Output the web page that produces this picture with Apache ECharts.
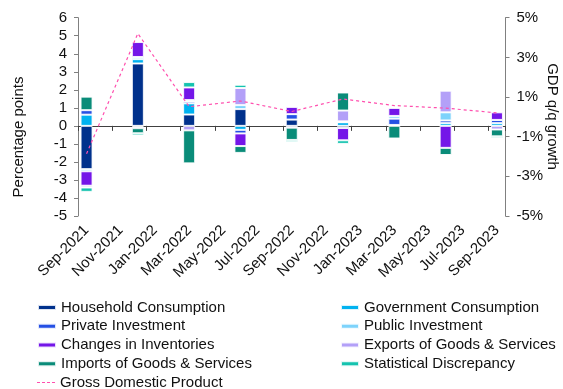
<!DOCTYPE html>
<html>
<head>
<meta charset="utf-8">
<script src="https://cdn.jsdelivr.net/npm/echarts@6/dist/echarts.min.js"></script>
<style>
  html, body { margin: 0; padding: 0; background: #fff; }
  #chart { width: 563px; height: 389px; }
</style>
</head>
<body>
<div id="chart"></div>
<script>
// Monthly category slots (labels shown every second month)
const months = ['Sep-2021','Oct-2021','Nov-2021','Dec-2021','Jan-2022','Feb-2022','Mar-2022','Apr-2022','May-2022',
  'Jun-2022','Jul-2022','Aug-2022','Sep-2022','Oct-2022','Nov-2022','Dec-2022','Jan-2023','Feb-2023','Mar-2023',
  'Apr-2023','May-2023','Jun-2023','Jul-2023','Aug-2023','Sep-2023'];

// Quarter-end months carrying data
const quarters = ['Sep-2021','Dec-2021','Mar-2022','Jun-2022','Sep-2022','Dec-2022','Mar-2023','Jun-2023','Sep-2023'];

// Contributions to growth, percentage points
const household       = [-2.40, 3.46,  0.63,  0.93,  0.35, -0.12,  0.05,  0.00,  0.00];
const government      = [ 0.62, 0.24,  0.62, -0.22,  0.00,  0.20,  0.00,  0.15,  0.15];
const privateInv      = [ 0.25, -0.05, 0.10, -0.20,  0.30,  0.00,  0.35,  0.15,  0.18];
const publicInv       = [-0.12, 0.12,  0.08,  0.22,  0.00,  0.05,  0.15,  0.45,  0.00];
const inventories     = [-0.80, 0.83,  0.70, -0.70,  0.40, -0.68,  0.45, -1.22,  0.42];
const exportsGS       = [-0.10, -0.08, -0.25, 0.95, -0.10,  0.60,  0.00,  1.20, -0.20];
const importsGS       = [ 0.75, -0.28, -1.83, -0.38, -0.68, 1.00, -0.70, -0.40, -0.38];
const statDiscrepancy = [-0.24, -0.12, 0.30,  0.18, -0.12, -0.20,  0.03,  0.00, -0.10];

// GDP q/q growth, %
const gdp = [-1.86, 4.20, 0.51, 0.80, 0.27, 0.90, 0.57, 0.44, 0.20];

// Axis tick labels
const leftTicks = [-5, -4, -3, -2, -1, 0, 1, 2, 3, 4, 5, 6];
const rightTicks = [-5, -3, -1, 1, 3, 5];

const toMonthly = vals => months.map(m => {
  const i = quarters.indexOf(m);
  return i < 0 ? null : vals[i];
});

const barDefs = [
  { name: 'Household Consumption',       color: '#00318C', data: household },
  { name: 'Government Consumption',      color: '#00B2F0', data: government },
  { name: 'Private Investment',          color: '#2550E4', data: privateInv },
  { name: 'Public Investment',           color: '#7DD3FB', data: publicInv },
  { name: 'Changes in Inventories',      color: '#7416E8', data: inventories },
  { name: 'Exports of Goods & Services', color: '#B3A0F8', data: exportsGS },
  { name: 'Imports of Goods & Services', color: '#0A8C79', data: importsGS },
  { name: 'Statistical Discrepancy',     color: '#14C3AF', data: statDiscrepancy }
];

const FONT = 'Liberation Sans, Arial, sans-serif';
const TXT = '#111';
const PINK = '#FF4FAE';

const series = barDefs.map(d => ({
  name: d.name,
  type: 'bar',
  stack: 'contrib',
  xAxisIndex: 0,
  yAxisIndex: 0,
  barWidth: 12,
  itemStyle: { color: d.color, borderColor: 'rgba(255,255,255,0.85)', borderWidth: 1 },
  data: toMonthly(d.data)
}));

series.push({
  name: 'Gross Domestic Product',
  type: 'line',
  xAxisIndex: 0,
  yAxisIndex: 1,
  symbol: 'none',
  connectNulls: true,
  lineStyle: { color: PINK, width: 1.2, type: [3, 3] },
  itemStyle: { color: PINK },
  data: toMonthly(gdp),
  z: 5
});

const legendText = { fontFamily: FONT, fontSize: 15, color: TXT, lineHeight: 18.8 };
const legendBase = {
  orient: 'vertical',
  padding: 0,
  itemGap: 0,
  itemWidth: 18,
  itemHeight: 5,
  height: 120,
  selectedMode: false,
  textStyle: legendText
};
// four short dashes for the GDP legend key
const dashIcon = 'path://M0,0h3v1h-3zM5,0h3v1h-3zM10,0h3v1h-3zM15,0h3v1h-3z';

const option = {
  animation: false,
  backgroundColor: '#fff',
  grid: { left: 78, right: 57.5, top: 17.7, bottom: 173, containLabel: false, outerBoundsMode: 'none' },
  xAxis: [
    {
      type: 'category',
      data: months,
      boundaryGap: true,
      position: 'bottom',
      axisLine: { show: true, onZero: true, onZeroAxisIndex: 0, lineStyle: { color: '#404040', width: 1 } },
      axisTick: { show: true, interval: 1, length: 5, lineStyle: { color: '#404040' } },
      axisLabel: { show: false },
      splitLine: { show: false }
    },
    {
      type: 'category',
      data: months,
      boundaryGap: true,
      position: 'bottom',
      axisLine: { show: false, onZero: false },
      axisTick: { show: false },
      axisLabel: { interval: 1, rotate: 45, margin: 12, fontFamily: FONT, fontSize: 15, color: TXT },
      splitLine: { show: false }
    }
  ],
  yAxis: [
    {
      type: 'value',
      min: leftTicks[0],
      max: leftTicks[leftTicks.length - 1],
      interval: 1,
      position: 'left',
      axisLine: { show: true, lineStyle: { color: '#808080' } },
      axisTick: { show: true, length: 4, lineStyle: { color: '#808080' } },
      axisLabel: { margin: 11, fontFamily: FONT, fontSize: 15, color: TXT },
      splitLine: { show: false }
    },
    {
      type: 'value',
      min: rightTicks[0],
      max: rightTicks[rightTicks.length - 1],
      position: 'right',
      axisLine: { show: true, lineStyle: { color: '#808080' } },
      axisTick: { show: true, length: 4, customValues: rightTicks, lineStyle: { color: '#808080' } },
      axisLabel: { margin: 11, customValues: rightTicks, formatter: v => v + '%', fontFamily: FONT, fontSize: 15, color: TXT },
      splitLine: { show: false }
    }
  ],
  legend: [
    Object.assign({}, legendBase, {
      left: 37,
      top: 298,
      data: [
        { name: 'Household Consumption', icon: 'rect' },
        { name: 'Private Investment', icon: 'rect' },
        { name: 'Changes in Inventories', icon: 'rect' },
        { name: 'Imports of Goods & Services', icon: 'rect' }
      ]
    }),
    Object.assign({}, legendBase, {
      left: 340,
      top: 298,
      data: [
        { name: 'Government Consumption', icon: 'rect' },
        { name: 'Public Investment', icon: 'rect' },
        { name: 'Exports of Goods & Services', icon: 'rect' },
        { name: 'Statistical Discrepancy', icon: 'rect' }
      ]
    }),
    Object.assign({}, legendBase, {
      left: 37,
      top: 373.2,
      height: 30,
      itemHeight: 1.2,
      data: [{ name: 'Gross Domestic Product', icon: dashIcon }]
    })
  ],
  graphic: [
    {
      type: 'text',
      x: 19, y: 137,
      rotation: Math.PI / 2,
      style: { text: 'Percentage points', font: '15px ' + FONT, fill: TXT, align: 'center', verticalAlign: 'middle' }
    },
    {
      type: 'text',
      x: 552, y: 116.5,
      rotation: -Math.PI / 2,
      style: { text: 'GDP q/q growth', font: '15px ' + FONT, fill: TXT, align: 'center', verticalAlign: 'middle' }
    }
  ],
  series: series
};

const chart = echarts.init(document.getElementById('chart'), null, { renderer: 'canvas' });
chart.setOption(option);
</script>
</body>
</html>
